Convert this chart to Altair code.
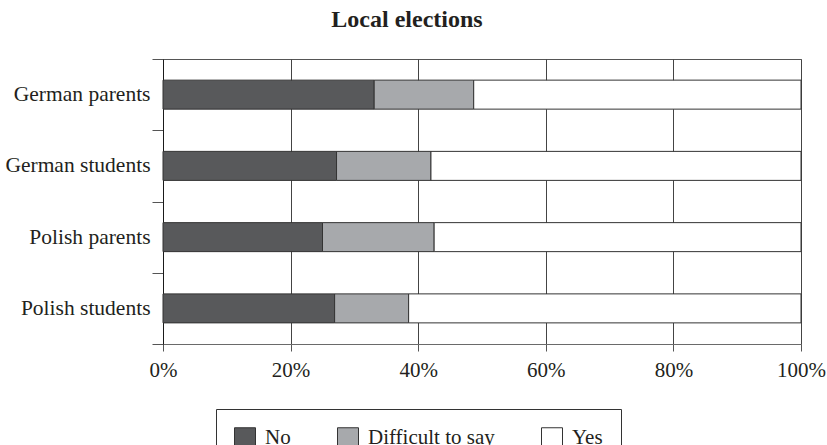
import altair as alt
import pandas as pd

groups = ["German parents", "German students", "Polish parents", "Polish students"]
answers = ["No", "Difficult to say", "Yes"]
no_share = [33.1, 27.2, 25.0, 26.9]
difficult_share = [15.6, 14.8, 17.5, 11.6]
yes_share = [51.3, 58.0, 57.5, 61.5]
tick_values = [0, 20, 40, 60, 80, 100]
fills = ["#58595b", "#a7a9ac", "#ffffff"]

rows = []
for i, g in enumerate(groups):
    for j, (a, v) in enumerate(zip(answers, [no_share[i], difficult_share[i], yes_share[i]])):
        rows.append({"group": g, "answer": a, "share": v, "order": j})
df = pd.DataFrame(rows)

serif = "Liberation Serif"

chart = alt.Chart(df).mark_bar(size=29, stroke="#333333", strokeWidth=1).encode(
    y=alt.Y(
        "group:N",
        sort=groups,
        title=None,
        scale=alt.Scale(paddingInner=0, paddingOuter=0),
        axis=alt.Axis(
            labelFont=serif, labelFontSize=21.5, labelColor="#231f20",
            tickBand="extent", tickSize=11, tickColor="#555555",
            domainColor="#1a1a1a", labelPadding=2,
        ),
    ),
    x=alt.X(
        "share:Q",
        stack="zero",
        title=None,
        scale=alt.Scale(domain=[0, 100], nice=False),
        axis=alt.Axis(
            values=tick_values, labelExpr="datum.value + '%'", labelFlush=False,
            labelFont=serif, labelFontSize=21, labelColor="#231f20",
            grid=True, gridColor="#444444", tickColor="#555555", tickSize=7,
            domainColor="#6a6a6a", labelPadding=8,
        ),
    ),
    color=alt.Color(
        "answer:N",
        sort=answers,
        scale=alt.Scale(domain=answers, range=fills),
        legend=alt.Legend(
            title=None, orient="none", legendX=53, legendY=350,
            direction="horizontal", symbolType="square", symbolSize=441,
            symbolStrokeColor="#333333", symbolStrokeWidth=1, symbolOpacity=1,
            labelFont=serif, labelFontSize=21, labelColor="#231f20",
            labelOffset=9, columnPadding=44, padding=18,
            strokeColor="#333333",
        ),
    ),
    order=alt.Order("order:Q"),
).properties(
    width=638,
    height=285,
    title=alt.TitleParams(
        "Local elections", font=serif, fontSize=24, fontWeight="bold",
        color="#231f20", anchor="middle", dx=-75, offset=16,
    ),
    autosize=alt.AutoSizeParams(type="none"),
    padding={"left": 163, "top": 59, "right": 26, "bottom": 110},
).configure_view(stroke="#555555", strokeWidth=1)

chart.save("out.html", embed_options={"renderer": "svg", "actions": False})
